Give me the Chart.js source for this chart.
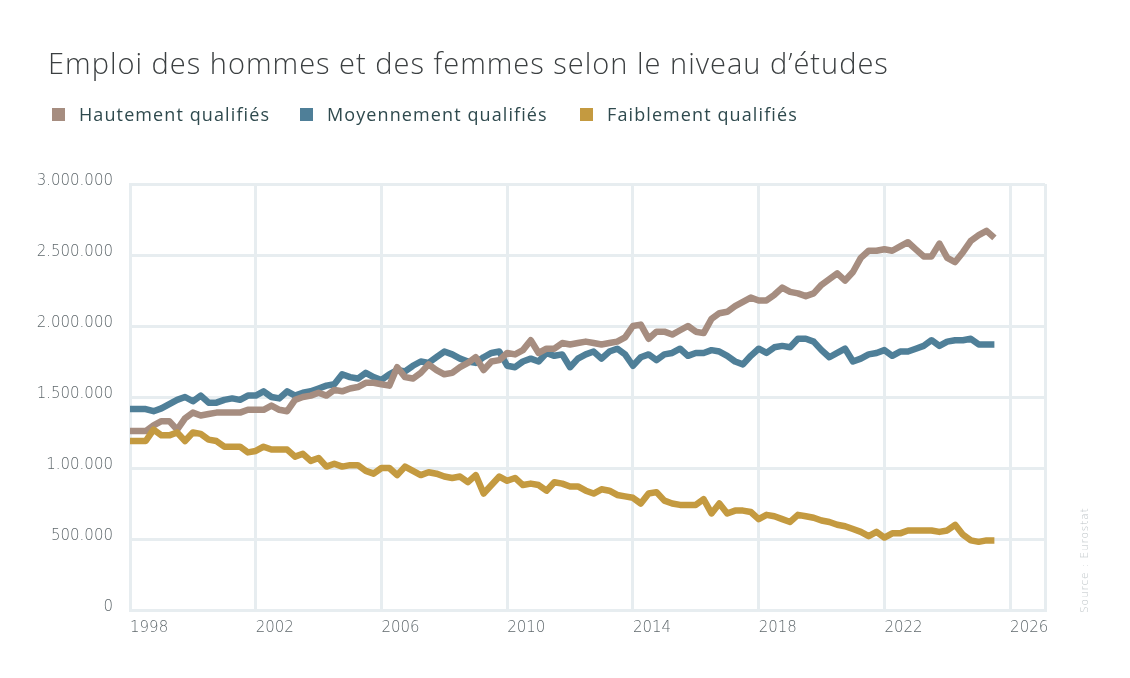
<!DOCTYPE html>
<html lang="fr">
<head>
<meta charset="utf-8">
<script src="https://cdn.jsdelivr.net/npm/chart.js@4.4.1/dist/chart.umd.min.js"></script>
<style>
  html, body { margin: 0; padding: 0; background: #ffffff; }
  #wrap { position: relative; width: 1130px; height: 678px; overflow: hidden; background: #fff; }
  #c { position: absolute; left: 0; top: 0; }
  .title { position: absolute; left: 48px; top: 48px; font-family: "Open Sans", sans-serif; font-weight: 300; font-size: 29px; line-height: 29px; color: #3b3f41; letter-spacing: 1.0px; white-space: nowrap; }
  .leg { position: absolute; top: 105px; font-family: "Open Sans", sans-serif; font-size: 18px; line-height: 18px; color: #2f4a4e; letter-spacing: 1.1px; white-space: nowrap; }
  .leg i { position: absolute; left: 0; top: 3px; width: 13px; height: 13px; }
  .leg span { position: absolute; left: 27px; top: 0; }
  .src { position: absolute; left: 1078px; top: 516px; width: 14px; height: 97px; font-family: "DejaVu Sans", sans-serif; font-weight: 200; font-size: 10.5px; color: #bcc3c6; writing-mode: vertical-rl; transform: rotate(180deg); letter-spacing: 0.9px; white-space: nowrap; }
</style>
</head>
<body>
<div id="wrap">
  <canvas id="c" width="1130" height="678"></canvas>
  <div class="title">Emploi des hommes et des femmes selon le niveau d’études</div>
  <div class="leg" id="leg0" style="left:52px"><i></i><span></span></div>
  <div class="leg" id="leg1" style="left:300px"><i></i><span></span></div>
  <div class="leg" id="leg2" style="left:580px"><i></i><span></span></div>
  <div class="src">Source : Eurostat</div>
</div>
<script>
// ---- Data (quarterly, 1998 Q1 – 2025 Q3) ----
const startYear = 1998;
const seriesNames = ["Hautement qualifiés", "Moyennement qualifiés", "Faiblement qualifiés"];

const hautement = [
  1260000,1260000,1260000,1300000,1330000,1330000,1270000,1350000,1390000,1370000,
  1380000,1390000,1390000,1390000,1390000,1410000,1410000,1410000,1440000,1410000,
  1400000,1480000,1500000,1510000,1530000,1510000,1550000,1540000,1560000,1570000,
  1600000,1600000,1590000,1580000,1710000,1640000,1630000,1670000,1730000,1690000,
  1660000,1670000,1710000,1740000,1780000,1690000,1750000,1760000,1810000,1800000,
  1830000,1900000,1810000,1840000,1840000,1880000,1870000,1880000,1890000,1880000,
  1870000,1880000,1890000,1920000,2000000,2010000,1910000,1960000,1960000,1940000,
  1970000,2000000,1960000,1950000,2050000,2090000,2100000,2140000,2170000,2200000,
  2180000,2180000,2220000,2270000,2240000,2230000,2210000,2230000,2290000,2330000,
  2370000,2320000,2380000,2480000,2530000,2530000,2540000,2530000,2560000,2590000,
  2540000,2490000,2490000,2580000,2480000,2450000,2520000,2600000,2640000,2670000,2620000
];

const moyennement = [
  1415000,1415000,1415000,1400000,1420000,1450000,1480000,1500000,1470000,1510000,
  1460000,1460000,1480000,1490000,1480000,1510000,1510000,1540000,1500000,1490000,
  1540000,1510000,1530000,1540000,1560000,1580000,1590000,1660000,1640000,1630000,
  1670000,1640000,1620000,1660000,1690000,1680000,1720000,1750000,1740000,1780000,
  1820000,1800000,1770000,1750000,1740000,1780000,1810000,1820000,1720000,1710000,
  1750000,1770000,1750000,1810000,1790000,1800000,1710000,1770000,1800000,1820000,
  1770000,1820000,1840000,1800000,1720000,1780000,1800000,1760000,1800000,1810000,
  1840000,1790000,1810000,1810000,1830000,1820000,1790000,1750000,1730000,1790000,
  1840000,1810000,1850000,1860000,1850000,1910000,1910000,1890000,1830000,1780000,
  1810000,1840000,1750000,1770000,1800000,1810000,1830000,1790000,1820000,1820000,
  1840000,1860000,1900000,1860000,1890000,1900000,1900000,1910000,1870000,1870000,1870000
];

const faiblement = [
  1190000,1190000,1190000,1270000,1230000,1230000,1250000,1190000,1250000,1240000,
  1200000,1190000,1150000,1150000,1150000,1110000,1120000,1150000,1130000,1130000,
  1130000,1080000,1100000,1050000,1070000,1010000,1030000,1010000,1020000,1020000,
  980000,960000,1000000,1000000,950000,1010000,980000,950000,970000,960000,
  940000,930000,940000,900000,950000,820000,880000,940000,910000,930000,
  880000,890000,880000,840000,900000,890000,870000,870000,840000,820000,
  850000,840000,810000,800000,790000,750000,820000,830000,770000,750000,
  740000,740000,740000,780000,680000,750000,680000,700000,700000,690000,
  640000,670000,660000,640000,620000,670000,660000,650000,630000,620000,
  600000,590000,570000,550000,520000,550000,510000,540000,540000,560000,
  560000,560000,560000,550000,560000,600000,530000,490000,480000,490000,490000
];

const xTickYears = [1998, 2002, 2006, 2010, 2014, 2018, 2022, 2026];
const xTickLabels = ["1998", "2002", "2006", "2010", "2014", "2018", "2022", "2026"];
const yTickValues = [0, 500000, 1000000, 1500000, 2000000, 2500000, 3000000];
const yTickLabels = ["0", "500.000", "1.00.000", "1.500.000", "2.000.000", "2.500.000", "3.000.000"];
const xAxisEnd = 2027.11;

// ---- Styles ----
const colors = ["#a68d80", "#4f7f98", "#c49a40"];
const gridColor = "#e7edf0";
const tickColor = "#5f686c";
const tickFont = { family: "'DejaVu Sans', sans-serif", size: 15, weight: 200 };

const toPoints = arr => arr.map((v, i) => ({ x: startYear + i / 4, y: v }));
const seriesData = [hautement, moyennement, faiblement];

// HTML legend
seriesNames.forEach((n, k) => {
  const el = document.getElementById("leg" + k);
  el.querySelector("i").style.background = colors[k];
  el.querySelector("span").textContent = n;
});

new Chart(document.getElementById("c"), {
  type: "line",
  data: {
    datasets: seriesNames.map((n, k) => ({
      label: n,
      data: toPoints(seriesData[k]),
      borderColor: colors[k],
      backgroundColor: colors[k],
      borderWidth: 6.5,
      pointRadius: 0,
      pointHoverRadius: 0,
      tension: 0,
      borderJoinStyle: "round",
      borderCapStyle: "butt",
      fill: false,
      order: [2, 3, 1][k]
    }))
  },
  options: {
    responsive: false,
    animation: false,
    events: [],
    layout: { padding: { left: 0, right: 85, top: 184, bottom: 0 } },
    plugins: { legend: { display: false }, title: { display: false }, tooltip: { enabled: false } },
    scales: {
      x: {
        type: "linear",
        min: startYear,
        max: xAxisEnd,
        afterBuildTicks: s => { s.ticks = xTickYears.map(v => ({ value: v })).concat([{ value: xAxisEnd }]); },
        afterFit: s => { s.height = 68; },
        grid: { color: gridColor, lineWidth: 3, drawTicks: false },
        border: { display: true, color: gridColor, width: 3 },
        ticks: {
          align: "start",
          padding: 9,
          color: tickColor,
          font: tickFont,
          maxRotation: 0,
          autoSkip: false,
          callback: v => { const k = xTickYears.indexOf(v); return k >= 0 ? xTickLabels[k] : ""; }
        }
      },
      y: {
        min: 0,
        max: 3000000,
        afterBuildTicks: s => { s.ticks = yTickValues.map(v => ({ value: v })); },
        afterFit: s => { s.width = 130; },
        grid: { color: gridColor, lineWidth: 3, drawTicks: false },
        border: { display: true, color: gridColor, width: 3 },
        ticks: {
          padding: 17,
          labelOffset: -3,
          color: tickColor,
          font: tickFont,
          callback: v => { const k = yTickValues.indexOf(v); return k >= 0 ? yTickLabels[k] : ""; }
        }
      }
    }
  }
});
</script>
</body>
</html>
